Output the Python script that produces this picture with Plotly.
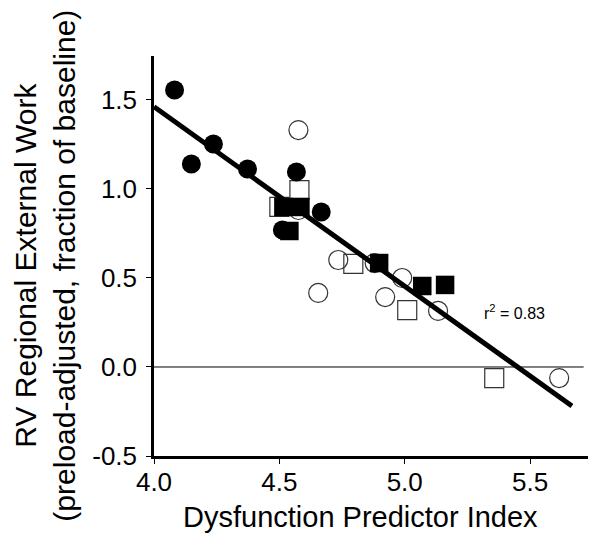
import plotly.graph_objects as go

# Filled circles
fc_x = [4.082, 4.149, 4.237, 4.373, 4.568, 4.667, 4.512]
fc_y = [1.556, 1.140, 1.253, 1.112, 1.096, 0.871, 0.770]
# Filled squares
fs_x = [4.516, 4.584, 4.540, 4.898, 5.070, 5.161]
fs_y = [0.899, 0.899, 0.764, 0.584, 0.455, 0.461]
# Open squares
os_x = [4.500, 4.580, 4.795, 5.010, 5.357]
os_y = [0.899, 0.994, 0.579, 0.320, -0.062]
# Open circles
oc_x = [4.576, 4.576, 4.735, 4.880, 4.655, 4.990, 4.922, 5.133, 5.616]
oc_y = [1.331, 0.882, 0.601, 0.584, 0.416, 0.500, 0.393, 0.315, -0.062]
# Regression line
fit_x = [4.0, 5.667]
fit_y = [1.462, -0.219]

x_ticks = [4.0, 4.5, 5.0, 5.5]
y_ticks = [-0.5, 0.0, 0.5, 1.0, 1.5]
x_range = [4.0, 5.731]
y_range = [-0.5, 1.747]

FONT = "Liberation Sans, Arial, Helvetica, sans-serif"

fig = go.Figure()
fig.add_trace(go.Scatter(x=oc_x, y=oc_y, mode="markers",
                         marker=dict(symbol="circle-open", size=19, color="#333", line=dict(width=1.2))))
fig.add_trace(go.Scatter(x=os_x, y=os_y, mode="markers",
                         marker=dict(symbol="square-open", size=19, color="#333", line=dict(width=1.2))))
fig.add_trace(go.Scatter(x=fs_x, y=fs_y, mode="markers",
                         marker=dict(symbol="square", size=18.5, color="black")))
fig.add_trace(go.Scatter(x=fc_x, y=fc_y, mode="markers",
                         marker=dict(symbol="circle", size=19, color="black")))
fig.add_trace(go.Scatter(x=fit_x, y=fit_y, mode="lines",
                         line=dict(color="black", width=5)))

fig.add_shape(type="line", xref="x domain", yref="y", x0=0, x1=0.99, y0=0, y1=0,
              line=dict(color="black", width=1), layer="below")

fig.add_annotation(x=5.309, y=0.308, xref="x", yref="y", text="r<sup>2</sup> = 0.83",
                   showarrow=False, xanchor="left", yanchor="middle",
                   font=dict(size=16, color="black", family=FONT))

fig.add_annotation(x=(44 - 153.5) / 434.5, y=(456 - 266) / 400, xref="paper", yref="paper",
                   text="RV Regional External Work<br>(preload-adjusted, fraction of baseline)",
                   textangle=-90, showarrow=False, xanchor="center", yanchor="middle",
                   font=dict(size=30, color="black", family=FONT))
fig.add_annotation(x=(360 - 153.5) / 434.5, y=(456 - 517) / 400, xref="paper", yref="paper",
                   text="Dysfunction Predictor Index",
                   showarrow=False, xanchor="center", yanchor="middle",
                   font=dict(size=29, color="black", family=FONT))

# page body has an 8px default margin, so the figure is offset by 8px
fig.update_layout(
    width=594, height=545,
    margin=dict(l=145.5, r=14, t=48, b=97),
    paper_bgcolor="white", plot_bgcolor="white",
    showlegend=False,
    font=dict(family=FONT, color="black"),
)
fig.update_xaxes(range=x_range, tickvals=x_ticks, ticktext=["4.0", "4.5", "5.0", "5.5"],
                 showline=True, linecolor="black", linewidth=2.5, showgrid=False, zeroline=False,
                 ticks="outside", ticklen=5, tickwidth=1.2, tickcolor="black", ticklabelstandoff=-4,
                 tickfont=dict(size=26, color="black", family=FONT))
fig.update_yaxes(range=y_range, tickvals=y_ticks, ticktext=["-0.5", "0.0", "0.5", "1.0", "1.5"],
                 showline=True, linecolor="black", linewidth=2.5, showgrid=False, zeroline=False,
                 ticks="outside", ticklen=5, tickwidth=1.2, tickcolor="black", ticklabelstandoff=4,
                 tickfont=dict(size=26, color="black", family=FONT))

fig.write_html("out.html")
